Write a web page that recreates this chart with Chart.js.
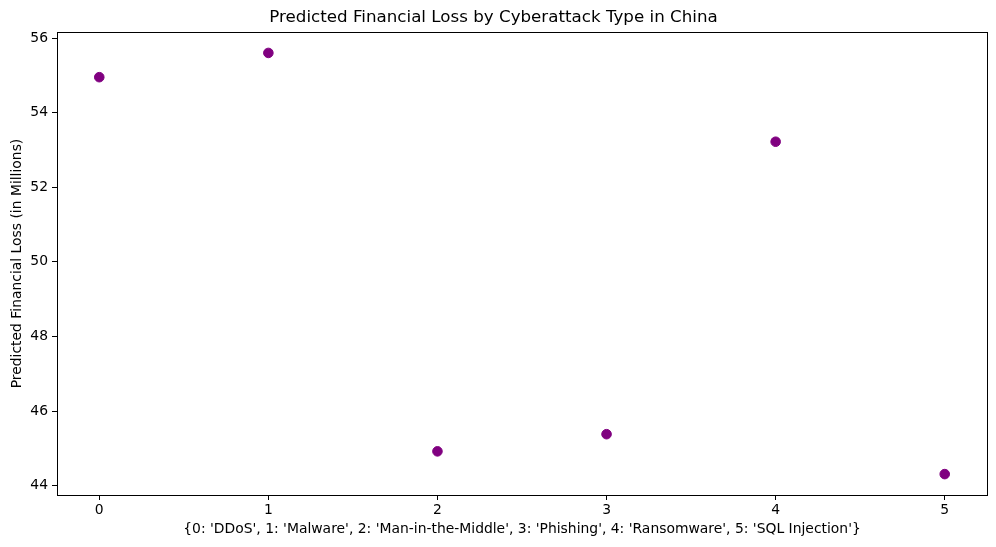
<!DOCTYPE html>
<html>
<head>
<meta charset="utf-8">
<script src="https://cdn.jsdelivr.net/npm/chart.js@4.4.1/dist/chart.umd.min.js"></script>
<style>
  html, body { margin: 0; padding: 0; background: #fff; }
  canvas { display: block; }
</style>
</head>
<body>
<canvas id="myChart" width="996" height="547"></canvas>
<script>
// Data
const categories = ['DDoS', 'Malware', 'Man-in-the-Middle', 'Phishing', 'Ransomware', 'SQL Injection'];
const codes = [0, 1, 2, 3, 4, 5];
const losses = [54.95, 55.6, 44.92, 45.38, 53.22, 44.31];
const xTicks = [0, 1, 2, 3, 4, 5];
const yTicks = [44, 46, 48, 50, 52, 54, 56];

const xTitle = '{' + codes.map((c, i) => c + ": '" + categories[i] + "'").join(', ') + '}';
const font = "'DejaVu Sans', sans-serif";

// matplotlib style box around the plot area
const frame = {
  id: 'frame',
  afterDatasetsDraw(chart) {
    const a = chart.chartArea;
    const c = chart.ctx;
    c.save();
    c.strokeStyle = '#000';
    c.lineWidth = 1;
    c.strokeRect(Math.round(a.left) + 0.5, Math.round(a.top) + 0.5,
      Math.round(a.right - a.left), Math.round(a.bottom - a.top));
    c.restore();
  }
};

const ctx = document.getElementById('myChart').getContext('2d');
const myChart = new Chart(ctx, {
  type: 'scatter',
  data: {
    datasets: [{
      data: codes.map((c, i) => ({ x: c, y: losses[i] })),
      backgroundColor: 'purple',
      borderColor: 'purple',
      borderWidth: 1,
      pointRadius: 4.8
    }]
  },
  options: {
    responsive: false,
    animation: false,
    layout: { padding: { left: 0, right: 9, top: 0, bottom: 0 } },
    plugins: {
      legend: { display: false },
      tooltip: { enabled: false },
      title: {
        display: true,
        text: 'Predicted Financial Loss by Cyberattack Type in China',
        color: '#000',
        font: { family: font, size: 16.7, weight: 'normal' },
        padding: { top: 8, bottom: 4 }
      }
    },
    scales: {
      x: {
        type: 'linear',
        min: -0.25,
        max: 5.25,
        afterBuildTicks(scale) { scale.ticks = xTicks.map(v => ({ value: v })); },
        afterFit(scale) { scale.height = 52; },
        grid: { display: true, drawOnChartArea: false, drawTicks: true, tickLength: 5, color: '#000' },
        border: { display: false },
        ticks: { color: '#000', padding: 2, maxRotation: 0, font: { family: font, size: 13.9 } },
        title: {
          display: true,
          text: xTitle,
          color: '#000',
          font: { family: font, size: 13.9 },
          padding: { top: 4, bottom: 9 }
        }
      },
      y: {
        type: 'linear',
        min: 43.75,
        max: 56.16,
        afterBuildTicks(scale) { scale.ticks = yTicks.map(v => ({ value: v })); },
        afterFit(scale) { scale.width = 57; },
        grid: { display: true, drawOnChartArea: false, drawTicks: true, tickLength: 5, color: '#000' },
        border: { display: false },
        ticks: { color: '#000', padding: 4, font: { family: font, size: 13.9 } },
        title: {
          display: true,
          text: 'Predicted Financial Loss (in Millions)',
          color: '#000',
          font: { family: font, size: 13.9 },
          padding: { top: 9, bottom: 4 }
        }
      }
    }
  },
  plugins: [frame]
});
</script>
</body>
</html>
